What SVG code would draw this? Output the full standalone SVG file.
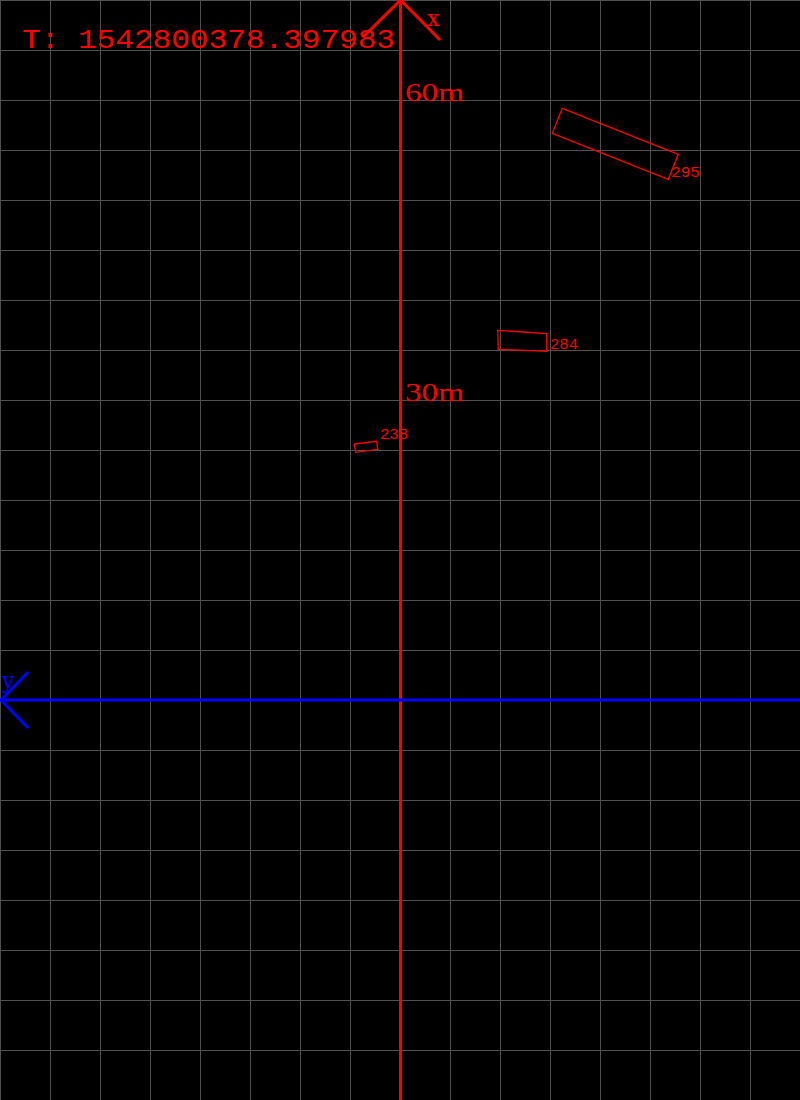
<svg xmlns="http://www.w3.org/2000/svg" width="800" height="1100" viewBox="0 0 800 1100">
<style>
.grid line{stroke:#505050;stroke-width:1}
.red{fill:#ff0000;font-family:"Liberation Serif","DejaVu Serif",serif}
.axl{font-family:"DejaVu Serif","Liberation Serif",serif;font-size:22px}
.mono{fill:#ff0000;font-family:"Liberation Mono","DejaVu Sans Mono",monospace}
.box{fill:none;stroke:#ff0000;stroke-width:1.3}
.lbl{fill:#ff0000;font-family:"Liberation Mono","DejaVu Sans Mono",monospace;font-size:14px}
</style>
<rect x="0" y="0" width="800" height="1100" fill="#000"/>
<g class="grid" id="grid">
<line x1="0.5" y1="0" x2="0.5" y2="1100"/><line x1="50.5" y1="0" x2="50.5" y2="1100"/><line x1="100.5" y1="0" x2="100.5" y2="1100"/><line x1="150.5" y1="0" x2="150.5" y2="1100"/><line x1="200.5" y1="0" x2="200.5" y2="1100"/><line x1="250.5" y1="0" x2="250.5" y2="1100"/><line x1="300.5" y1="0" x2="300.5" y2="1100"/><line x1="350.5" y1="0" x2="350.5" y2="1100"/><line x1="450.5" y1="0" x2="450.5" y2="1100"/><line x1="500.5" y1="0" x2="500.5" y2="1100"/><line x1="550.5" y1="0" x2="550.5" y2="1100"/><line x1="600.5" y1="0" x2="600.5" y2="1100"/><line x1="650.5" y1="0" x2="650.5" y2="1100"/><line x1="700.5" y1="0" x2="700.5" y2="1100"/><line x1="750.5" y1="0" x2="750.5" y2="1100"/>
<line x1="0" y1="0.5" x2="800" y2="0.5"/><line x1="0" y1="50.5" x2="800" y2="50.5"/><line x1="0" y1="100.5" x2="800" y2="100.5"/><line x1="0" y1="150.5" x2="800" y2="150.5"/><line x1="0" y1="200.5" x2="800" y2="200.5"/><line x1="0" y1="250.5" x2="800" y2="250.5"/><line x1="0" y1="300.5" x2="800" y2="300.5"/><line x1="0" y1="350.5" x2="800" y2="350.5"/><line x1="0" y1="400.5" x2="800" y2="400.5"/><line x1="0" y1="450.5" x2="800" y2="450.5"/><line x1="0" y1="500.5" x2="800" y2="500.5"/><line x1="0" y1="550.5" x2="800" y2="550.5"/><line x1="0" y1="600.5" x2="800" y2="600.5"/><line x1="0" y1="650.5" x2="800" y2="650.5"/><line x1="0" y1="750.5" x2="800" y2="750.5"/><line x1="0" y1="800.5" x2="800" y2="800.5"/><line x1="0" y1="850.5" x2="800" y2="850.5"/><line x1="0" y1="900.5" x2="800" y2="900.5"/><line x1="0" y1="950.5" x2="800" y2="950.5"/><line x1="0" y1="1000.5" x2="800" y2="1000.5"/><line x1="0" y1="1050.5" x2="800" y2="1050.5"/>
</g>
<g id="connectors">
<line id="x-axis" x1="400.5" y1="0" x2="400.5" y2="1100" stroke="#ff0000" stroke-width="3"/>
<polyline id="x-arrow" points="363,37 400.5,0 440,40" fill="none" stroke="#ff0000" stroke-width="3"/>
<line id="y-axis" x1="0" y1="700" x2="800" y2="700" stroke="#0000ff" stroke-width="3"/>
<polyline id="y-arrow" points="28,672 1,700 28,728" fill="none" stroke="#0000ff" stroke-width="3"/>
</g>
<g id="labels">
<text class="mono" x="22" y="48" font-size="28" textLength="373" lengthAdjust="spacingAndGlyphs">T: 1542800378.397983</text>
<text class="axl" fill="#ff0000" x="427" y="26">x</text>
<text class="axl" fill="#0000ff" x="2" y="688">y</text>
<text class="red" x="405" y="101" font-size="26" textLength="59" lengthAdjust="spacingAndGlyphs">60m</text>
<text class="red" x="405" y="401" font-size="26" textLength="59" lengthAdjust="spacingAndGlyphs">30m</text>
</g>
<g id="obj-295">
<polygon class="box" points="562.3,108.3 678.3,154.3 668.3,179.3 552.3,133.3"/>
<text class="lbl" x="671" y="177" textLength="29" lengthAdjust="spacingAndGlyphs">295</text>
</g>
<g id="obj-284">
<polygon class="box" points="497.7,330.3 546.7,333.7 546.7,351.3 498.3,349.3"/>
<text class="lbl" x="550" y="349" textLength="28" lengthAdjust="spacingAndGlyphs">284</text>
</g>
<g id="obj-238">
<polygon class="box" points="354.3,444 376.7,441.3 377.7,449.3 355.7,452.3"/>
<text class="lbl" x="380" y="439" textLength="28" lengthAdjust="spacingAndGlyphs">238</text>
</g>
</svg>
